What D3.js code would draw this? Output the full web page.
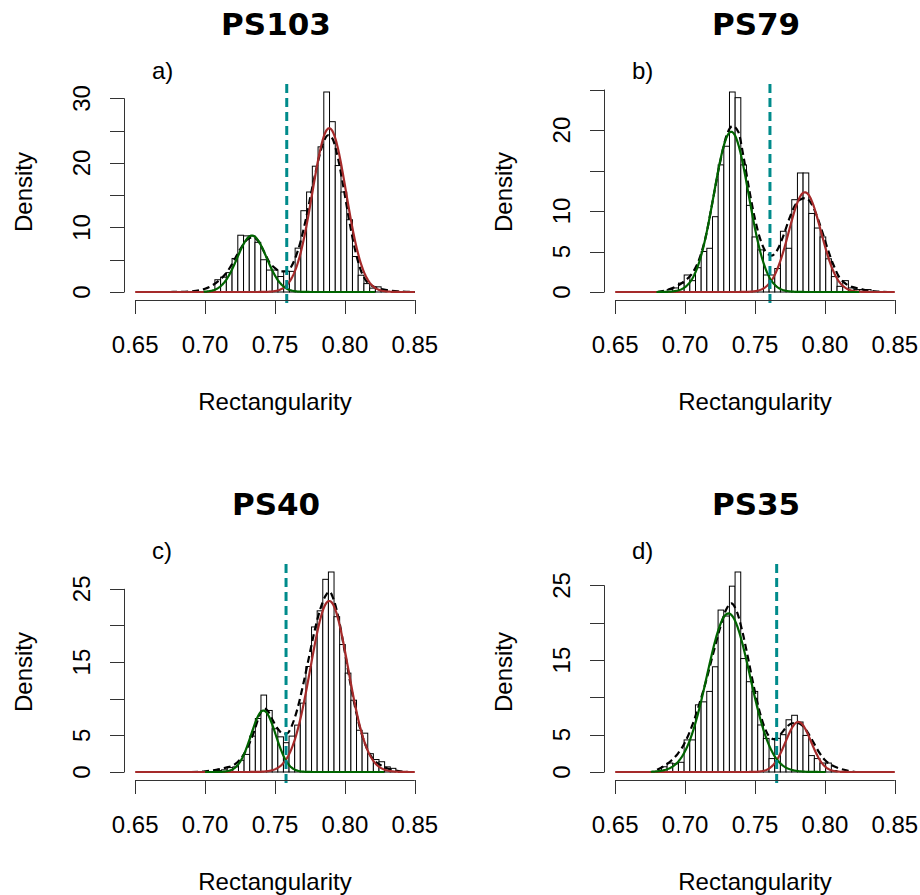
<!DOCTYPE html>
<html>
<head>
<meta charset="utf-8">
<script src="https://cdn.jsdelivr.net/npm/d3@7/dist/d3.min.js"></script>
<style>
  body { margin: 0; background: #fff; }
  text { font-family: "Liberation Sans", Arial, sans-serif; fill: #000; }
</style>
</head>
<body>
<div id="chart"></div>
<script>
// Rectangularity histograms with two-component normal fits, one panel per site
const sites = ['PS103', 'PS79', 'PS40', 'PS35'];
const panelTags = ['a)', 'b)', 'c)', 'd)'];

const xTicks = [0.65, 0.70, 0.75, 0.80, 0.85];
const yTicks = [
    [0, 5, 10, 15, 20, 25, 30],
    [0, 5, 10, 15, 20, 25],
    [0, 5, 10, 15, 20, 25],
    [0, 5, 10, 15, 20, 25]
];
// R drops labels that would overlap, so some ticks have none
const yTickLabels = [
    ['0', '', '10', '', '20', '', '30'],
    ['0', '5', '10', '', '20', ''],
    ['0', '5', '', '15', '', '25'],
    ['0', '5', '', '15', '', '25']
];

// histogram bins: first break and bin width
const binStart = [0.7070, 0.6872, 0.7078, 0.6831];
const binWidth = [0.0041, 0.00405, 0.00402, 0.00405];

const densityPS103 = [1.9, 2.3, 3.0, 5.2, 8.8, 8.7, 8.7, 7.7, 5.0, 3.4, 3.4, 2.4, 3.2, 3.2, 6.8,
    12.6, 15.5, 19.5, 22.5, 31.0, 26.4, 19.6, 15.5, 11.2, 5.5, 2.6, 1.3, 0.6, 0.8, 0.3];
const densityPS79 = [0.3, 0.5, 1.1, 2.1, 1.4, 3.0, 5.0, 5.4, 9.3, 15.7, 18.0, 24.7, 24.0, 15.7, 10.7,
    6.8, 5.2, 2.1, 2.1, 2.9, 7.5, 5.4, 11.4, 14.7, 14.7, 9.7, 7.9, 6.8, 4.1, 1.9, 0.7, 1.4, 0.5, 0.3, 0.3, 0.3];
const densityPS40 = [0.2, 0.3, 0.6, 0.7, 1.6, 2.4, 4.9, 7.3, 10.5, 8.4, 5.9, 4.8, 4.0, 4.9, 6.4, 9.4,
    14.4, 19.8, 22.0, 26.3, 27.3, 21.2, 17.4, 13.5, 9.8, 5.7, 5.3, 2.5, 1.7, 1.4, 0.7, 0.5];
const densityPS35 = [0.7, 1.2, 1.1, 1.3, 4.3, 4.3, 9.0, 9.4, 10.8, 14.1, 21.7, 20.9, 24.9, 26.8, 15.2,
    12.1, 10.8, 6.3, 4.5, 1.8, 4.5, 5.0, 7.0, 7.6, 6.7, 4.9, 2.2, 1.8, 1.2, 1.2, 0.2];

// kernel density (black dashed), [rectangularity, density]
const kdePS103 = [[0.675, 0], [0.690, 0.1], [0.700, 0.5], [0.705, 1.0], [0.710, 1.8], [0.715, 2.9],
    [0.720, 4.6], [0.725, 6.6], [0.730, 8.1], [0.734, 8.5], [0.738, 7.9], [0.742, 6.3], [0.746, 4.6],
    [0.750, 3.7], [0.754, 3.2], [0.758, 3.2], [0.761, 3.7], [0.764, 5.0], [0.768, 7.6], [0.772, 11.2],
    [0.776, 15.5], [0.780, 19.5], [0.784, 22.8], [0.788, 24.3], [0.791, 23.8], [0.795, 20.8],
    [0.799, 16.2], [0.803, 11.2], [0.807, 6.8], [0.811, 3.6], [0.815, 1.8], [0.820, 0.9],
    [0.825, 0.5], [0.830, 0.3], [0.838, 0.1], [0.850, 0]];
const kdePS79 = [[0.680, 0], [0.688, 0.3], [0.695, 0.8], [0.700, 1.4], [0.705, 2.3], [0.710, 4.0],
    [0.715, 7.0], [0.720, 11.5], [0.725, 16.0], [0.730, 19.5], [0.734, 20.5], [0.738, 19.8],
    [0.742, 16.5], [0.746, 12.5], [0.750, 9.0], [0.754, 6.4], [0.758, 4.9], [0.762, 4.5],
    [0.766, 5.2], [0.770, 6.8], [0.774, 8.8], [0.778, 10.5], [0.782, 11.4], [0.786, 11.6],
    [0.790, 11.0], [0.794, 9.5], [0.798, 7.5], [0.802, 5.3], [0.806, 3.4], [0.810, 1.9],
    [0.815, 1.0], [0.820, 0.6], [0.825, 0.4], [0.830, 0.2], [0.838, 0.05], [0.845, 0]];
const kdePS40 = [[0.690, 0], [0.700, 0.1], [0.708, 0.3], [0.715, 0.6], [0.720, 0.9], [0.725, 1.7],
    [0.730, 3.2], [0.735, 5.5], [0.739, 7.8], [0.742, 8.7], [0.745, 8.3], [0.748, 7.2], [0.752, 5.9],
    [0.756, 5.2], [0.759, 5.3], [0.762, 6.3], [0.766, 8.6], [0.770, 11.8], [0.774, 15.4],
    [0.778, 19.0], [0.782, 22.0], [0.786, 24.0], [0.789, 24.6], [0.792, 23.5], [0.796, 20.5],
    [0.800, 16.3], [0.804, 12.0], [0.808, 8.2], [0.812, 5.2], [0.816, 3.1], [0.820, 1.8],
    [0.825, 1.0], [0.830, 0.5], [0.836, 0.2], [0.845, 0]];
const kdePS35 = [[0.680, 0.3], [0.685, 0.8], [0.690, 1.5], [0.695, 2.5], [0.700, 4.0], [0.705, 6.2],
    [0.710, 9.0], [0.715, 12.2], [0.720, 15.8], [0.725, 19.3], [0.729, 21.6], [0.733, 22.6],
    [0.737, 21.5], [0.741, 18.8], [0.745, 15.3], [0.749, 11.6], [0.753, 8.3], [0.757, 5.9],
    [0.761, 4.6], [0.764, 4.4], [0.768, 5.0], [0.772, 5.9], [0.776, 6.5], [0.780, 6.6],
    [0.784, 6.2], [0.788, 5.2], [0.792, 3.9], [0.796, 2.6], [0.800, 1.6], [0.805, 0.9],
    [0.810, 0.5], [0.816, 0.2], [0.822, 0]];

// fitted normal components: mean, sd, mixing weight
const greenMean = [0.7335, 0.7330, 0.7417, 0.7310];
const greenSd = [0.0105, 0.0125, 0.0088, 0.0154];
const greenWeight = [0.23, 0.62, 0.185, 0.82];
const redMean = [0.7888, 0.7857, 0.7888, 0.7810];
const redSd = [0.0121, 0.0115, 0.0135, 0.0091];
const redWeight = [0.77, 0.355, 0.79, 0.153];

// threshold between the two components (teal dashed line)
const cutoff = [0.7584, 0.7607, 0.7579, 0.7655];

const densities = [densityPS103, densityPS79, densityPS40, densityPS35];
const kdes = [kdePS103, kdePS79, kdePS40, kdePS35];

const width = 920;
const height = 895;

const svg = d3.select('#chart')
    .append('svg')
    .attr('width', width)
    .attr('height', height)
    .style('background', '#fff');

const normal = (v, m, s, w) => w * Math.exp(-0.5 * ((v - m) / s) ** 2) / (s * Math.sqrt(2 * Math.PI));

sites.forEach((site, i) => {
    const ox = (i % 2) * 480;
    const oy = Math.floor(i / 2) * 480;
    const g = svg.append('g').attr('transform', `translate(${ox},${oy})`);

    const dens = densities[i];
    const ymax = d3.max(dens);
    const xlim = [xTicks[0], xTicks[xTicks.length - 1]];
    const xpad = 0.04 * (xlim[1] - xlim[0]);

    const x = d3.scaleLinear()
        .domain([xlim[0] - xpad, xlim[1] + xpad])
        .range([124, 426]);
    const y = d3.scaleLinear()
        .domain([-0.04 * ymax, 1.04 * ymax])
        .range([300, 84]);

    // histogram bars
    const bins = dens.map((d, j) => ({ x0: binStart[i] + j * binWidth[i], x1: binStart[i] + (j + 1) * binWidth[i], d }));
    g.selectAll('rect.bar')
        .data(bins)
        .enter()
        .append('rect')
        .attr('class', 'bar')
        .attr('x', b => x(b.x0))
        .attr('width', b => x(b.x1) - x(b.x0))
        .attr('y', b => y(b.d))
        .attr('height', b => y(0) - y(b.d))
        .attr('fill', '#fff')
        .attr('stroke', '#000')
        .attr('stroke-width', 1);

    // kernel density
    g.append('path')
        .datum(kdes[i])
        .attr('fill', 'none')
        .attr('stroke', '#000')
        .attr('stroke-width', 2.2)
        .attr('stroke-dasharray', '7,4')
        .attr('d', d3.line().x(p => x(p[0])).y(p => y(p[1])).curve(d3.curveMonotoneX));

    // fitted components
    const grid = d3.range(xlim[0], xlim[1] + 1e-9, 0.0005);
    const lineXY = d3.line().x(p => x(p[0])).y(p => y(p[1]));
    const binEnd = binStart[i] + dens.length * binWidth[i];

    g.append('path')
        .attr('fill', 'none')
        .attr('stroke', '#A52A2A')
        .attr('stroke-width', 2.2)
        .attr('d', lineXY(grid.map(v => [v, normal(v, redMean[i], redSd[i], redWeight[i])])));

    g.append('path')
        .attr('fill', 'none')
        .attr('stroke', '#006400')
        .attr('stroke-width', 2.2)
        .attr('d', lineXY(grid.filter(v => v >= binStart[i] - 0.008 && v <= binEnd - 0.008)
            .map(v => [v, normal(v, greenMean[i], greenSd[i], greenWeight[i])])));

    // threshold
    g.append('line')
        .attr('x1', x(cutoff[i]))
        .attr('x2', x(cutoff[i]))
        .attr('y1', 84)
        .attr('y2', 304)
        .attr('stroke', '#008B8B')
        .attr('stroke-width', 3)
        .attr('stroke-dasharray', '9,5');

    // x axis
    g.append('line')
        .attr('x1', x(xlim[0])).attr('x2', x(xlim[1]))
        .attr('y1', 300.5).attr('y2', 300.5)
        .attr('stroke', '#333');
    g.selectAll('line.xtick')
        .data(xTicks)
        .enter()
        .append('line')
        .attr('class', 'xtick')
        .attr('x1', t => Math.round(x(t)) + 0.5).attr('x2', t => Math.round(x(t)) + 0.5)
        .attr('y1', 300).attr('y2', 314)
        .attr('stroke', '#333');
    g.selectAll('text.xlab')
        .data(xTicks)
        .enter()
        .append('text')
        .attr('class', 'xlab')
        .attr('x', t => x(t))
        .attr('y', 353)
        .attr('text-anchor', 'middle')
        .style('font-size', '24px')
        .text(t => t.toFixed(2));

    // y axis
    const yt = yTicks[i];
    g.append('line')
        .attr('x1', 124.5).attr('x2', 124.5)
        .attr('y1', y(yt[0])).attr('y2', y(yt[yt.length - 1]))
        .attr('stroke', '#333');
    g.selectAll('line.ytick')
        .data(yt)
        .enter()
        .append('line')
        .attr('class', 'ytick')
        .attr('x1', 110).attr('x2', 124.5)
        .attr('y1', t => Math.round(y(t)) + 0.5).attr('y2', t => Math.round(y(t)) + 0.5)
        .attr('stroke', '#333');
    g.selectAll('text.ylab')
        .data(yt)
        .enter()
        .append('text')
        .attr('class', 'ylab')
        .attr('transform', t => `translate(90,${y(t)}) rotate(-90)`)
        .attr('text-anchor', 'middle')
        .style('font-size', '24px')
        .text((t, j) => yTickLabels[i][j]);

    // labels
    g.append('text')
        .attr('x', 276)
        .attr('y', 35)
        .attr('text-anchor', 'middle')
        .style('font-family', '"DejaVu Sans", Verdana, sans-serif')
        .style('font-weight', 'bold')
        .style('font-size', '31px')
        .text(site);

    g.append('text')
        .attr('x', 152)
        .attr('y', 79)
        .style('font-size', '24px')
        .text(panelTags[i]);

    g.append('text')
        .attr('transform', 'translate(32,192) rotate(-90)')
        .attr('text-anchor', 'middle')
        .style('font-size', '24px')
        .text('Density');

    g.append('text')
        .attr('x', 275)
        .attr('y', 410)
        .attr('text-anchor', 'middle')
        .style('font-size', '24px')
        .text('Rectangularity');
});
</script>
</body>
</html>
